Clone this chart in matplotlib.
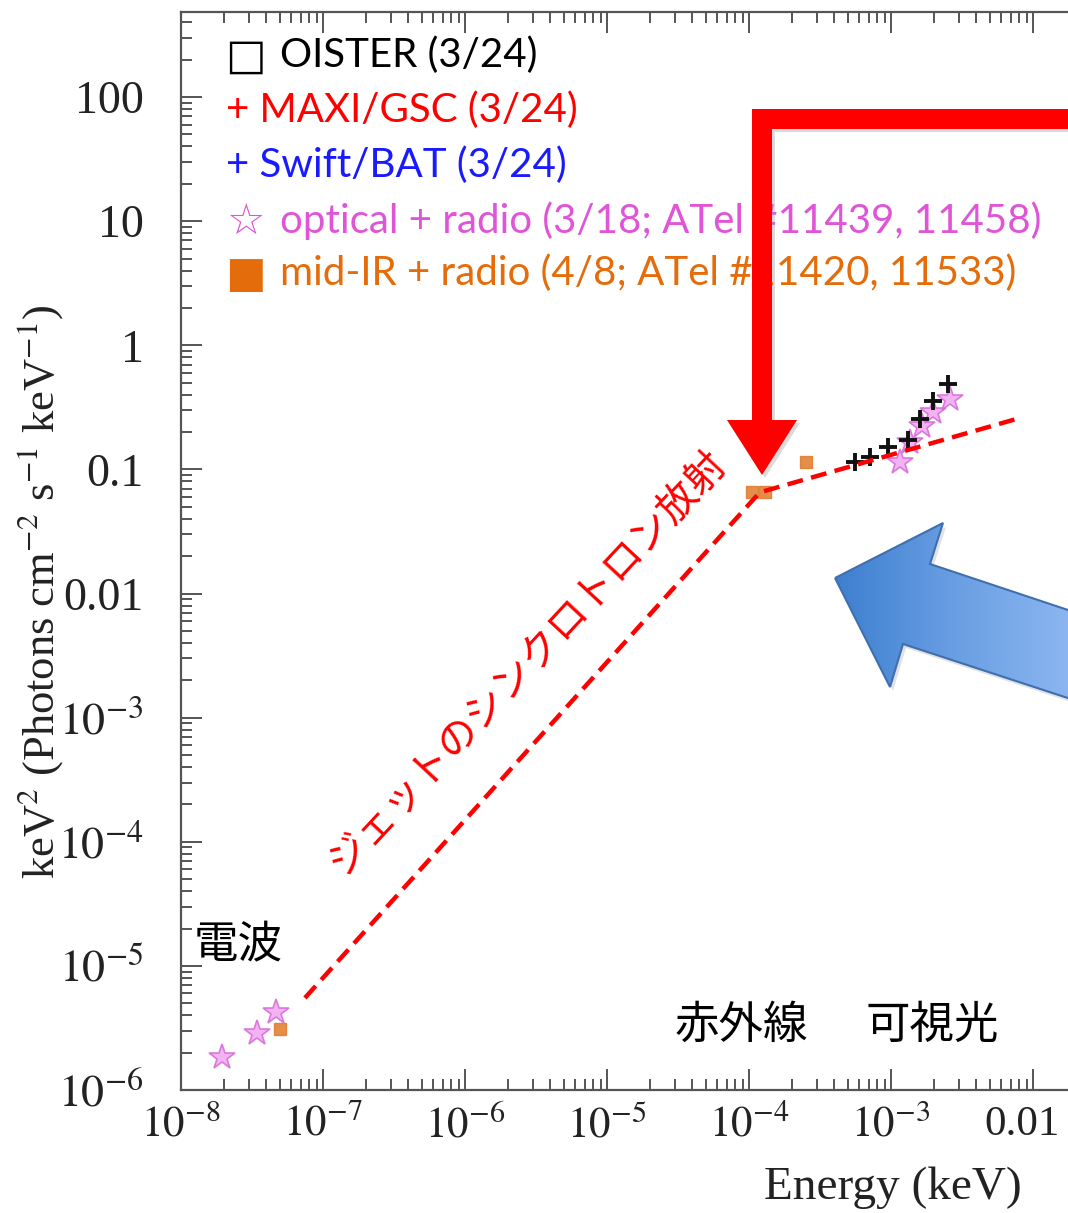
import numpy as np
import matplotlib
matplotlib.use("Agg")
import matplotlib.pyplot as plt
import matplotlib.transforms as mtransforms
from matplotlib.patches import Polygon
from matplotlib.colors import LinearSegmentedColormap
from matplotlib.ticker import FixedLocator, FixedFormatter, LogLocator, NullFormatter

# ---------------- data ----------------
oister_x = [5.57e-4, 7.11e-4, 9.53e-4, 1.32e-3, 1.60e-3, 1.98e-3, 2.52e-3]
oister_y = [0.114, 0.125, 0.153, 0.174, 0.253, 0.353, 0.484]

optradio_x = [1.94e-8, 3.43e-8, 4.67e-8, 1.16e-3, 1.36e-3, 1.65e-3, 1.98e-3, 2.60e-3]
optradio_y = [1.84e-6, 2.88e-6, 4.25e-6, 0.114, 0.165, 0.222, 0.288, 0.367]

midir_x = [4.98e-8, 1.05e-4, 1.30e-4, 2.52e-4]
midir_y = [3.1e-6, 0.0653, 0.0653, 0.114]

sync_x = [7.46e-8, 1.19e-4, 7.46e-3]
sync_y = [5.52e-6, 0.0653, 0.253]

xtick_vals = [1e-8, 1e-7, 1e-6, 1e-5, 1e-4, 1e-3, 1e-2]
xtick_labels = [r'$10^{-8}$', r'$10^{-7}$', r'$10^{-6}$', r'$10^{-5}$', r'$10^{-4}$',
                r'$10^{-3}$', '0.01']
ytick_vals = [1e-6, 1e-5, 1e-4, 1e-3, 1e-2, 1e-1, 1, 10, 100]
ytick_labels = [r'$10^{-6}$', r'$10^{-5}$', r'$10^{-4}$', r'$10^{-3}$', '0.01', '0.1',
                '1', '10', '100']

legend_entries = [
    ("□", "OISTER (3/24)", "black"),
    ("", "+ MAXI/GSC (3/24)", "#ff0000"),
    ("", "+ Swift/BAT (3/24)", "#1a1aff"),
    ("☆", "optical + radio (3/18; ATel #11439, 11458)", "#e055d8"),
    ("■", "mid-IR + radio (4/8; ATel #11420, 11533)", "#e46c0a"),
]

# ---------------- figure ----------------
W, H = 1068, 1213
plt.rcParams['mathtext.fontset'] = 'stix'
plt.rcParams['font.family'] = ['Liberation Serif', 'DejaVu Serif']
fig = plt.figure(figsize=(W / 100, H / 100), dpi=100)

ax_left, ax_right, ax_top, ax_bot = 181, 181 + 1420, 12, 1090
ax = fig.add_axes([ax_left / W, 1 - ax_bot / H, (ax_right - ax_left) / W, (ax_bot - ax_top) / H])
ax.set_xscale('log')
ax.set_yscale('log')
ax.set_xlim(1e-8, 1e2)
ax.set_ylim(1e-6, 10 ** (2 + 85 / 124))

for s in ax.spines.values():
    s.set_color('#555555')
    s.set_linewidth(1.6)

ax.xaxis.set_major_locator(FixedLocator(xtick_vals))
ax.xaxis.set_major_formatter(FixedFormatter(xtick_labels))
ax.yaxis.set_major_locator(FixedLocator(ytick_vals))
ax.yaxis.set_major_formatter(FixedFormatter(ytick_labels))
ax.xaxis.set_minor_locator(LogLocator(base=10, subs=np.arange(2, 10), numticks=100))
ax.yaxis.set_minor_locator(LogLocator(base=10, subs=np.arange(2, 10), numticks=100))
ax.xaxis.set_minor_formatter(NullFormatter())
ax.yaxis.set_minor_formatter(NullFormatter())
ax.tick_params(which='both', direction='in', top=True, right=True, color='#555555', width=1.4)
ax.tick_params(which='major', length=15)
ax.tick_params(which='minor', length=8)
ax.tick_params(axis='x', which='major', labelsize=31, pad=11, labelcolor='#222222')
ax.tick_params(axis='y', which='major', labelsize=33, pad=27, labelcolor='#222222')

# nudge the last x tick label ("0.01") left so it stays inside the picture, as in the original
fig.canvas.draw()
last_lbl = ax.get_xticklabels()[-1]
last_lbl.set_transform(last_lbl.get_transform() +
                       mtransforms.ScaledTranslation(-11 / 100, 0, fig.dpi_scale_trans))

ax.set_xlabel('Energy (keV)', fontsize=34, color='#222222')
ax.xaxis.label.set_va('center')
ax.xaxis.set_label_coords((893 - ax_left) / (ax_right - ax_left), -(1188 - ax_bot) / (ax_bot - ax_top))
ax.set_ylabel(r'keV$^2$ (Photons cm$^{-2}$ s$^{-1}$ keV$^{-1}$)', fontsize=32, color='#222222')
ax.yaxis.label.set_va('center')
ax.yaxis.set_label_coords(-(ax_left - 40) / (ax_right - ax_left), (ax_bot - 592) / (ax_bot - ax_top))

# data marks
ax.plot(optradio_x, optradio_y, linestyle='none', marker='*', markersize=19,
        markerfacecolor='#f2a6f0', markeredgecolor='#d668d6', markeredgewidth=1.2, alpha=0.85, zorder=3)
ax.plot(midir_x, midir_y, linestyle='none', marker='s', markersize=9,
        color='#e07a2a', alpha=0.85, zorder=3)
ax.plot(oister_x, oister_y, linestyle='none', marker='+', markersize=13,
        markeredgewidth=2.8, color='#111111', zorder=4)
ax.plot(sync_x, sync_y, color='#ff0000', linewidth=3.2, linestyle=(0, (3.6, 1.9)), zorder=5)

# ---------------- overlay (pixel coordinates) ----------------
ov = fig.add_axes([0, 0, 1, 1])
ov.set_xlim(0, W)
ov.set_ylim(H, 0)
ov.axis('off')
ov.patch.set_alpha(0)

sans = ['Lato', 'DejaVu Sans']
ys = [52, 107, 162, 217, 270]
for (sym, label, col), y in zip(legend_entries, ys):
    if sym:
        ov.text(245, y, sym, color=col, fontsize=31, family=['DejaVu Sans'],
                ha='center', va='center_baseline', zorder=10)
        ov.text(280, y, label, color=col, fontsize=29, family=sans, ha='left',
                va='center_baseline', zorder=10)
    else:
        ov.text(226, y, label, color=col, fontsize=29, family=sans, ha='left',
                va='center_baseline', zorder=10)

jp = ['Noto Sans CJK JP', 'DejaVu Sans']
ov.text(238, 945, '電波', fontsize=32, family=jp, ha='center', va='center', color='black')
ov.text(741, 1025, '赤外線', fontsize=32, family=jp, ha='center', va='center', color='black')
ov.text(932, 1025, '可視光', fontsize=32, family=jp, ha='center', va='center', color='black')
ov.text(528, 663, 'ジェットのシンクロトロン放射', fontsize=29, family=jp, rotation=47,
        rotation_mode='anchor', ha='center', va='center', color='#ff0000')

# red arrow
red_pts = [(752, 109), (1080, 109), (1080, 129), (772, 129), (772, 420), (797, 420),
           (762, 475), (727, 420), (752, 420)]
ov.add_patch(Polygon([(x + 3, y + 3) for x, y in red_pts], closed=True, facecolor='#999999',
                     edgecolor='none', alpha=0.35, zorder=11))
ov.add_patch(Polygon(red_pts, closed=True, facecolor='#ff0000', edgecolor='none', zorder=12))

# blue arrow with gradient
blue_pts = [(835, 578), (943, 523), (930, 564), (1080, 614), (1080, 702), (903, 644), (890, 687)]
ov.add_patch(Polygon([(x + 3, y + 4) for x, y in blue_pts], closed=True, facecolor='#aaaaaa',
                     edgecolor='none', alpha=0.35, zorder=11))
bpoly = Polygon(blue_pts, closed=True, facecolor='none', edgecolor='#3f6fae', linewidth=1.5, zorder=13)
ov.add_patch(bpoly)
grad = np.linspace(0, 1, 256).reshape(1, -1)
cmap = LinearSegmentedColormap.from_list('b', ['#3d7fcf', '#6a9fe3', '#8fb8f2'])
im = ov.imshow(grad, extent=(835, 1080, 710, 515), cmap=cmap, aspect='auto', zorder=12)
im.set_clip_path(bpoly)
ov.set_xlim(0, W)
ov.set_ylim(H, 0)

fig.savefig('out.png', dpi=100)
